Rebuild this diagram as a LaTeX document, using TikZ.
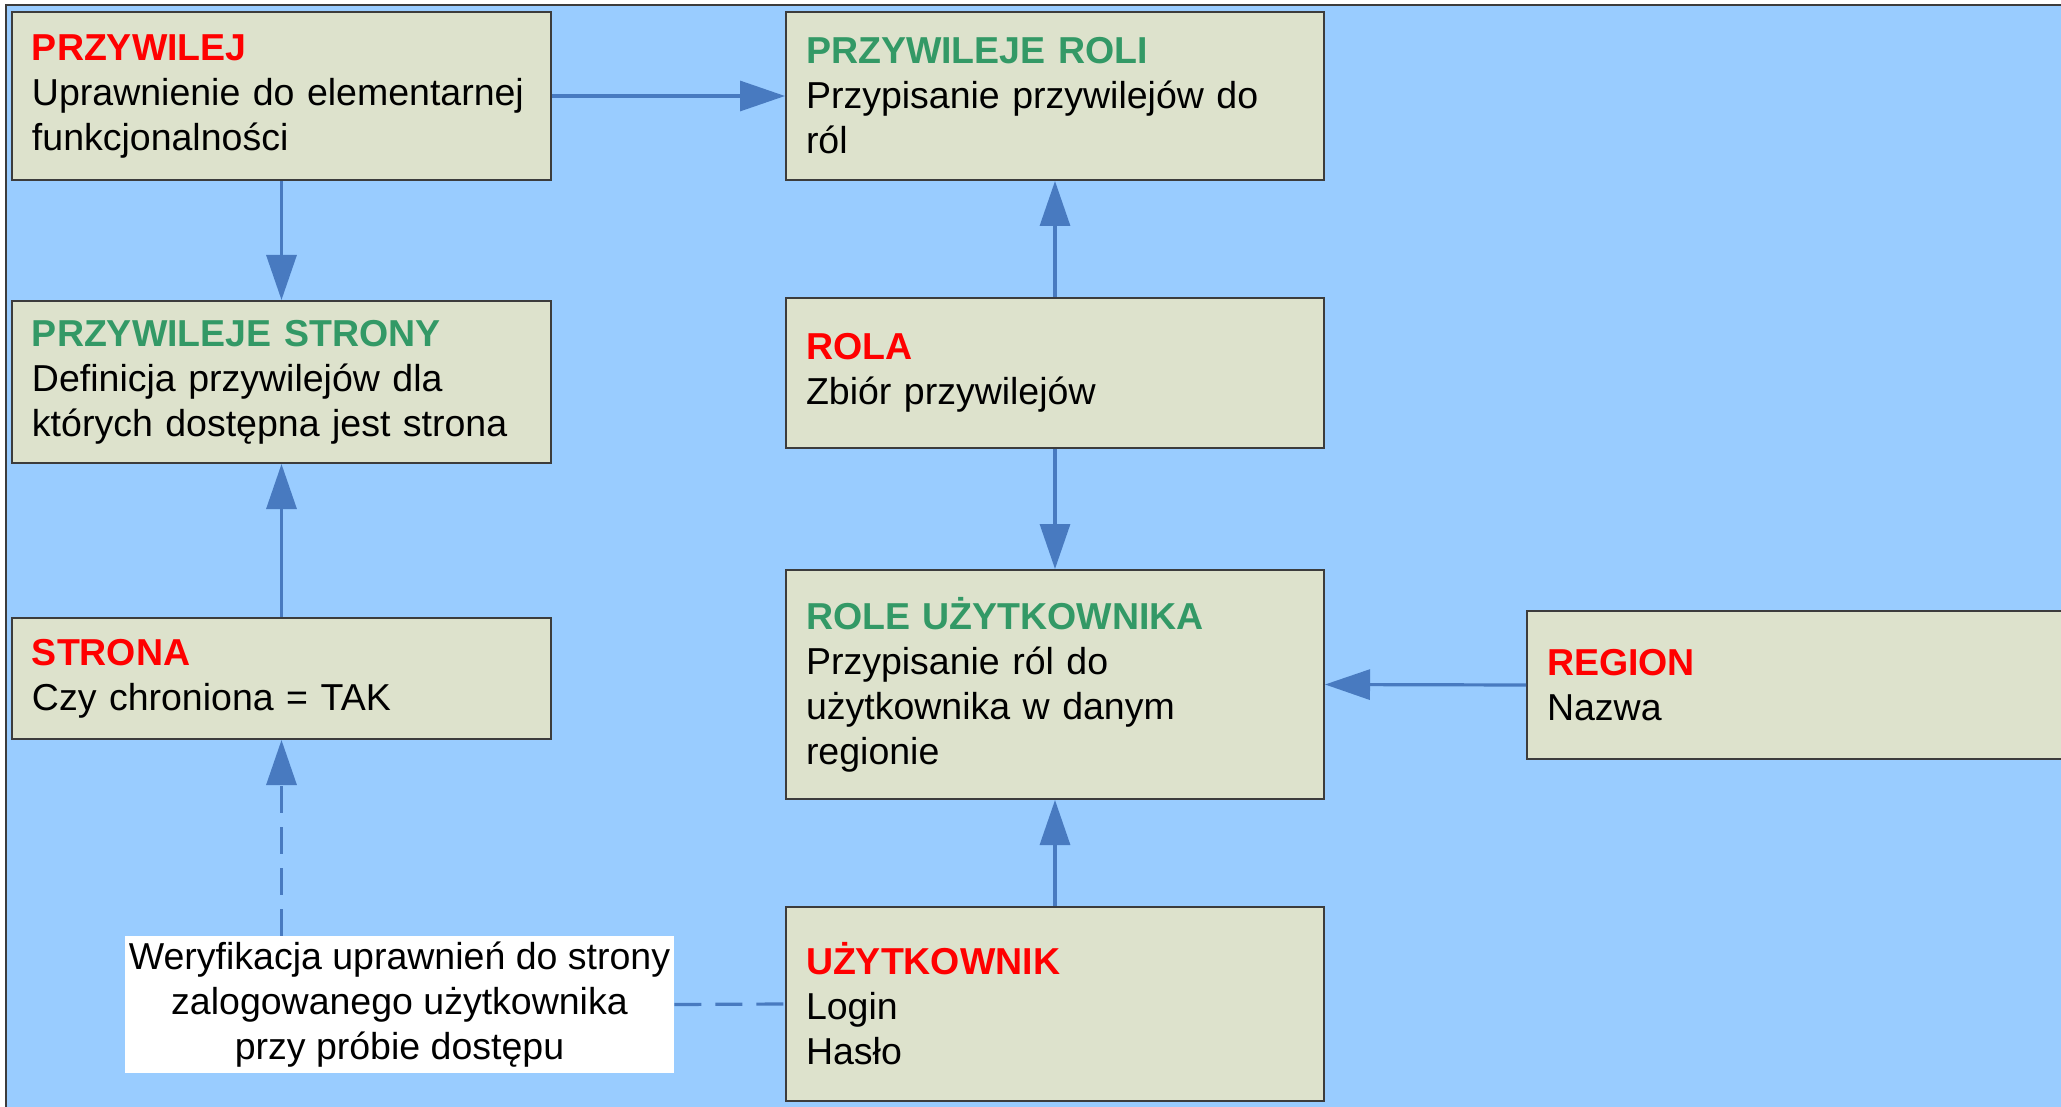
\documentclass[tikz,border=0pt]{standalone}
\usepackage{fontspec}
\setmainfont{Liberation Sans}
\usepackage{tikz}
\usetikzlibrary{arrows.meta, positioning, calc}

\definecolor{niebieski}{RGB}{153,204,255}
\definecolor{tlo}{RGB}{221,226,204}
\definecolor{ramka}{RGB}{60,60,60}
\definecolor{linia}{RGB}{72,122,192}
\definecolor{czerwony}{RGB}{255,0,0}
\definecolor{zielony}{RGB}{51,153,102}

\newcommand{\naglowek}[2]{\textcolor{#1}{\bfseries #2}}

\tikzset{
    tabela/.style={draw=ramka, line width=1pt, fill=tlo, align=left,
        inner xsep=10pt, inner ysep=0pt, text width=#1,
        font=\fontsize{18.75}{22.5}\selectfont},
    strzalka/.style={draw=linia, line width=1.6pt,
        -{Triangle[length=22.5pt,width=15pt]}},
    przerywana/.style={draw=linia, line width=1.6pt,
        dash pattern=on 13.5pt off 7pt}
}

\begin{document}
\begin{tikzpicture}[x=0.5pt,y=-0.5pt]
            \useasboundingbox (0,0) rectangle (2061,1107);

            % Tlo
            \fill[niebieski] (6,5) rectangle (2061,1107);
            \draw[ramka, line width=0.8pt] (6,1107) -- (6,5) -- (2061,5);

            % Tabele
            \node[tabela=249.5pt, minimum height=84pt] (przywilej) at (281.5,96)
                {\naglowek{czerwony}{PRZYWILEJ}\\Uprawnienie do elementarnej\\funkcjonalności};
            \node[tabela=249.5pt, minimum height=81pt] (przywilejeStrony) at (281.5,382)
                {\naglowek{zielony}{PRZYWILEJE STRONY}\\Definicja przywilejów dla\\których dostępna jest strona};
            \node[tabela=249.5pt, minimum height=60.5pt] (strona) at (281.5,678.5)
                {\naglowek{czerwony}{STRONA}\\Czy chroniona = TAK};

            \node[tabela=249pt, minimum height=84pt] (przywilejeRoli) at (1055,96)
                {\naglowek{zielony}{PRZYWILEJE ROLI}\\Przypisanie przywilejów do\\ról};
            \node[tabela=249pt, minimum height=75pt] (rola) at (1055,373)
                {\naglowek{czerwony}{ROLA}\\Zbiór przywilejów};
            \node[tabela=249pt, minimum height=114.5pt] (roleUzytkownika) at (1055,684.5)
                {\naglowek{zielony}{ROLE UŻYTKOWNIKA}\\Przypisanie ról do\\użytkownika w danym\\regionie};
            \node[tabela=249pt, minimum height=97pt] (uzytkownik) at (1055,1004)
                {\naglowek{czerwony}{UŻYTKOWNIK}\\Login\\Hasło};

            \node[tabela=280pt, minimum height=74pt, anchor=west] (region) at (1526,685)
                {\naglowek{czerwony}{REGION}\\Nazwa};

            % Opis
            \node[fill=white, align=center, inner sep=0pt, minimum width=274.5pt,
                minimum height=68.5pt, font=\fontsize{18.75}{22.5}\selectfont]
                (weryfikacja) at (399.5,1004.5)
                {Weryfikacja uprawnień do strony\\zalogowanego użytkownika\\przy próbie dostępu};

            % Strzalki
            \draw[strzalka] (przywilej) -- (przywilejeRoli);
            \draw[strzalka] (przywilej) -- (przywilejeStrony);
            \draw[strzalka] (strona) -- (przywilejeStrony);
            \draw[strzalka] (rola) -- (przywilejeRoli);
            \draw[strzalka] (rola) -- (roleUzytkownika);
            \draw[strzalka] (uzytkownik) -- (roleUzytkownika);
            \draw[strzalka] (region.west) -- (roleUzytkownika.east);

            % Linie przerywane
            \draw[przerywana, strzalka] (strona.south |- weryfikacja.north) -- (strona.south);
            \draw[przerywana] (weryfikacja.east) -- (uzytkownik.west);
        \end{tikzpicture}
\end{document}
